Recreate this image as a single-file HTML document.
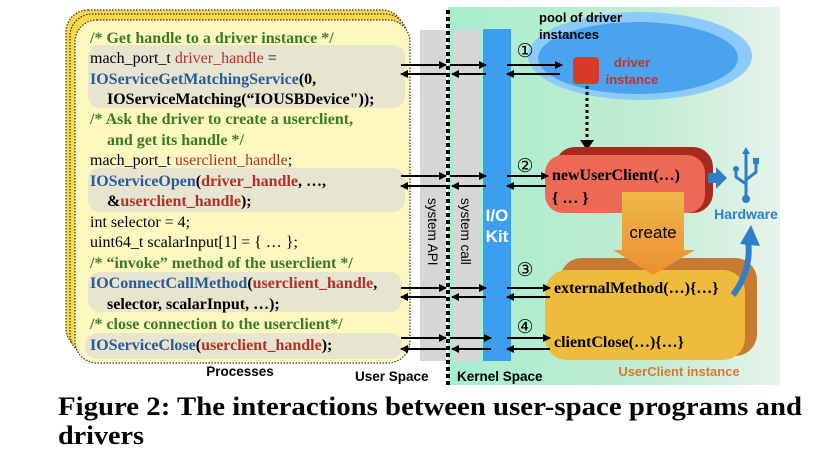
<!DOCTYPE html>
<html><head><meta charset="utf-8"><style>
html,body{margin:0;padding:0;background:#fff;width:840px;height:464px;overflow:hidden}
svg{display:block}
.c{font-family:"Liberation Serif",serif;font-size:16px}
.s{font-family:"Liberation Sans",sans-serif;font-weight:bold}
</style></head><body>
<svg width="840" height="464" viewBox="0 0 840 464">
<defs>
<linearGradient id="g" x1="0" x2="1" y1="0" y2="0">
<stop offset="0" stop-color="#a6eece"/><stop offset="0.6" stop-color="#c2ecd4"/><stop offset="1" stop-color="#e6f4ea"/>
</linearGradient>
<linearGradient id="cr" x1="0" x2="0" y1="0" y2="1"><stop offset="0" stop-color="#eeb84a"/><stop offset="1" stop-color="#ec8f30"/></linearGradient>
<marker id="ah" markerWidth="8" markerHeight="8" refX="7" refY="4" orient="auto" markerUnits="userSpaceOnUse"><path d="M0,0 L8,4 L0,8 z" fill="#000"/></marker>
</defs>
<rect x="448" y="7" width="332" height="378" fill="url(#g)"/>
<rect x="420" y="30" width="26" height="331" fill="#d6d6d6"/>
<rect x="453" y="30" width="27" height="331" fill="#d6d6d6"/>
<line x1="448" y1="10" x2="448" y2="386" stroke="#000" stroke-width="4" stroke-dasharray="4,3"/>
<text font-family="Liberation Sans,sans-serif" font-size="13.5" transform="translate(428,198) rotate(90)">system  API</text>
<text font-family="Liberation Sans,sans-serif" font-size="13.5" transform="translate(461,198) rotate(90)">system  call</text>
<rect x="483" y="29" width="28" height="332" fill="#3d9ef0"/>
<text class="s" x="497" y="221" font-size="17" fill="#fff" text-anchor="middle">I/O</text>
<text class="s" x="497" y="242" font-size="17" fill="#fff" text-anchor="middle">Kit</text>
<rect x="66" y="10" width="338" height="340" rx="22" fill="#f6d84a" stroke="#333" stroke-width="1.2" stroke-dasharray="1.5,1.5"/>
<rect x="70" y="14" width="337" height="342" rx="22" fill="#f6d84a" stroke="#333" stroke-width="1.2" stroke-dasharray="1.5,1.5"/>
<rect x="75" y="20" width="335" height="343" rx="22" fill="#fdf8c0" stroke="#333" stroke-width="1.2" stroke-dasharray="1.5,1.5"/>
<rect x="88" y="45" width="317" height="63" rx="12" fill="#e7e4cf"/>
<rect x="88" y="168" width="317" height="44" rx="12" fill="#e7e4cf"/>
<rect x="88" y="272" width="314" height="40" rx="12" fill="#e7e4cf"/>
<rect x="85" y="333" width="317" height="26" rx="12" fill="#e7e4cf"/>
<g class="c">
<text x="90" y="43" fill="#3a7a2a" font-weight="bold">/* Get handle to a driver instance */</text>
<text x="90" y="63">mach_port_t <tspan fill="#b0302a">driver_handle</tspan> =</text>
<text x="90" y="84" font-weight="bold"><tspan fill="#2a5a9a">IOServiceGetMatchingService</tspan>(0,</text>
<text x="107" y="104" font-weight="bold">IOServiceMatching(“IOUSBDevice"));</text>
<text x="90" y="124" fill="#3a7a2a" font-weight="bold">/* Ask the driver to create a userclient,</text>
<text x="107" y="145" fill="#3a7a2a" font-weight="bold">and get its handle */</text>
<text x="90" y="165">mach_port_t <tspan fill="#b0302a">userclient_handle</tspan>;</text>
<text x="90" y="186" font-weight="bold"><tspan fill="#2a5a9a">IOServiceOpen</tspan>(<tspan fill="#b0302a">driver_handle</tspan>, …,</text>
<text x="107" y="206" font-weight="bold">&amp;<tspan fill="#b0302a">userclient_handle</tspan>);</text>
<text x="90" y="227">int selector = 4;</text>
<text x="90" y="247">uint64_t scalarInput[1] = { … };</text>
<text x="90" y="268" fill="#3a7a2a" font-weight="bold">/* “invoke” method of the userclient */</text>
<text x="90" y="288" font-weight="bold"><tspan fill="#2a5a9a">IOConnectCallMethod</tspan>(<tspan fill="#b0302a">userclient_handle</tspan>,</text>
<text x="107" y="309" font-weight="bold">selector, scalarInput, …);</text>
<text x="90" y="329" fill="#3a7a2a" font-weight="bold">/* close connection to the userclient*/</text>
<text x="90" y="350" font-weight="bold"><tspan fill="#2a5a9a">IOServiceClose</tspan>(<tspan fill="#b0302a">userclient_handle</tspan>);</text>
</g>
<ellipse cx="640" cy="56" rx="112" ry="44" fill="#8ccaf8"/>
<ellipse cx="638" cy="58" rx="100" ry="36" fill="#4aa3ef"/>
<rect x="573" y="57" width="26" height="27" rx="4" fill="#d63a28"/>
<text class="s" x="632" y="67" font-size="13" fill="#c03428" text-anchor="middle">driver</text>
<text class="s" x="632" y="84" font-size="13" fill="#c03428" text-anchor="middle">instance</text>
<text class="s" x="539" y="22" font-size="13">pool of driver</text>
<text class="s" x="539" y="39" font-size="13">instances</text>
<line x1="587" y1="86" x2="587" y2="140" stroke="#000" stroke-width="3" stroke-dasharray="3,3"/>
<path d="M580,140 L594,140 L587,150 z" fill="#000"/>
<rect x="555" y="147" width="158" height="66" rx="20" fill="#a82a1c"/>
<rect x="545" y="155" width="160" height="58" rx="18" fill="#ec6a55"/>
<rect x="560" y="258" width="197" height="98" rx="22" fill="#c87a30"/>
<rect x="545" y="270" width="200" height="90" rx="22" fill="#efbb3c"/>
<path d="M622,192 L684,192 L684,250 L695,250 L653,275 L613,250 L622,250 z" fill="url(#cr)"/>
<text class="s" x="653" y="238" font-size="17" style="font-weight:normal" text-anchor="middle">create</text>
<g class="c" font-weight="bold">
<text x="552" y="180">newUserClient(…)</text>
<text x="552" y="203">{ … }</text>
<text x="554" y="293">externalMethod(…){…}</text>
<text x="554" y="347">clientClose(…){…}</text>
</g>
<path d="M708,173 L716,173 L716,167 L727,178 L716,189 L716,183 L708,183 z" fill="#2f7ec8"/>
<g stroke="#2f7ec8" stroke-width="3" fill="none">
<line x1="746" y1="150" x2="746" y2="197"/>
<path d="M736,171 L736,177 L746,184"/>
<path d="M756,163 L756,172 L746,180"/>
</g>
<path d="M742,154 L746,147 L750,154 z" fill="#2f7ec8"/>
<circle cx="736" cy="169" r="3" fill="#2f7ec8"/>
<rect x="753" y="158" width="6" height="6" fill="#2f7ec8"/>
<circle cx="746" cy="199" r="4" fill="#2f7ec8"/>
<text class="s" x="746" y="219" font-size="14" fill="#2f7ec8" text-anchor="middle">Hardware</text>
<path d="M733,295 Q752,270 748,240" stroke="#2f7ec8" stroke-width="6" fill="none"/>
<path d="M740,244 L751,225 L760,246 z" fill="#2f7ec8"/>
<g font-family="DejaVu Sans,sans-serif" font-size="19" text-anchor="middle">
<text x="525" y="57">①</text><text x="525" y="172">②</text><text x="525" y="276">③</text><text x="525" y="333">④</text>
</g>
<g stroke="#000" stroke-width="2" marker-end="url(#ah)">
<line x1="401" y1="65" x2="446" y2="65"/><line x1="446" y1="74" x2="401" y2="74"/>
<line x1="450" y1="65" x2="486" y2="65"/><line x1="486" y1="74" x2="452" y2="74"/>
<line x1="507" y1="65" x2="562" y2="65"/><line x1="560" y1="74" x2="507" y2="74"/>
<line x1="401" y1="176" x2="446" y2="176"/><line x1="446" y1="186" x2="401" y2="186"/>
<line x1="450" y1="176" x2="486" y2="176"/><line x1="486" y1="186" x2="452" y2="186"/>
<line x1="507" y1="176" x2="548" y2="176"/><line x1="546" y1="186" x2="507" y2="186"/>
<line x1="401" y1="288" x2="446" y2="288"/><line x1="446" y1="297" x2="401" y2="297"/>
<line x1="450" y1="288" x2="486" y2="288"/><line x1="486" y1="297" x2="452" y2="297"/>
<line x1="507" y1="288" x2="550" y2="288"/><line x1="550" y1="297" x2="507" y2="297"/>
<line x1="401" y1="338" x2="446" y2="338"/><line x1="446" y1="349" x2="401" y2="349"/>
<line x1="450" y1="338" x2="491" y2="338"/><line x1="491" y1="349" x2="452" y2="349"/>
<line x1="507" y1="338" x2="550" y2="338"/><line x1="550" y1="349" x2="507" y2="349"/>
</g>
<text class="s" x="240" y="376" font-size="13.5" text-anchor="middle">Processes</text>
<text class="s" x="355" y="381" font-size="13.5">User Space</text>
<text class="s" x="457" y="381" font-size="13.5">Kernel Space</text>
<text class="s" x="679" y="376" font-size="13" fill="#d9782e" text-anchor="middle">UserClient instance</text>
<text x="58" y="415" font-family="Liberation Serif,serif" font-weight="bold" font-size="26" textLength="744" lengthAdjust="spacingAndGlyphs">Figure 2: The interactions between user-space programs and</text>
<text x="58" y="444" font-family="Liberation Serif,serif" font-weight="bold" font-size="26" textLength="86" lengthAdjust="spacingAndGlyphs">drivers</text>
</svg>
</body></html>
